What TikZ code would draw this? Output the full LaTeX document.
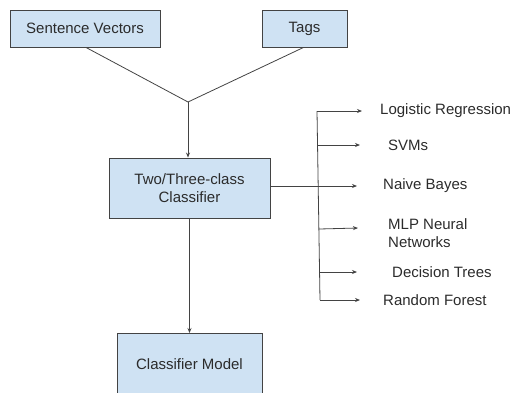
\documentclass[tikz,border=0pt]{standalone}
\usepackage{fontspec}
\setmainfont{Liberation Sans}
\usetikzlibrary{arrows.meta}
\definecolor{boxfill}{HTML}{CFE2F3}
\definecolor{boxline}{HTML}{434343}
\definecolor{txt}{HTML}{2B2B2B}
\begin{document}
\begin{tikzpicture}[x=1pt,y=-1pt,
  box/.style={draw=boxline,line width=0.9pt,fill=boxfill,text=txt,font=\fontsize{15}{18}\selectfont,align=center,inner sep=0pt},
  lbl/.style={anchor=west,text=txt,font=\fontsize{15}{18}\selectfont,align=left,inner sep=0pt},
  conn/.style={draw=boxline,line width=0.8pt},
  arr/.style={conn,-{Stealth[length=5pt,width=4pt]}}]
\useasboundingbox (0,0) rectangle (511,392);
\begin{scope}
\clip (0,0) rectangle (511,392);
\node[box,minimum width=150pt,minimum height=37pt] (sv) at (85,28.5) {Sentence Vectors};
\node[box,minimum width=85pt,minimum height=37pt] (tags) at (304.5,28.5) {Tags};
\node[box,minimum width=161pt,minimum height=60pt] (clf) at (189.5,188) {Two/Three-class\\Classifier};
\node[box,minimum width=145pt,minimum height=80pt,anchor=north] (cm) at (189.5,333) {};
\node[text=txt,font=\fontsize{15}{18}\selectfont,inner sep=0pt] (cmt) at (189.5,364) {Classifier Model};
\end{scope}
\coordinate (j) at (188,102);
\draw[conn] (sv.south) ++(1,0) coordinate (svb) (svb) -- (j);
\draw[conn] (tags.south) ++(-1,0) coordinate (tb) (tb) -- (j);
\draw[arr] (j) -- (j |- clf.north);
\draw[arr] (clf.south) -- (cm.north);
% branch column
\coordinate (vt) at (317,111);
\coordinate (vb) at (320,300);
\draw[conn] (vt) -- (vb);
\node[lbl] (lr) at (380,111) {Logistic Regression};
\node[lbl] (svm) at (388,145) {SVMs};
\node[lbl] (nb) at (383,186) {Naive Bayes};
\node[lbl] (mlp) at (388,233) {MLP Neural\\Networks};
\node[lbl] (dt) at (392,272) {Decision Trees};
\node[lbl] (rf) at (383,300) {Random Forest};
\coordinate (a1) at (362,111);
\coordinate (a2) at (360,145);
\coordinate (a3) at (357,186);
\coordinate (a4) at (358,228);
\coordinate (a5) at (357,272);
\coordinate (a6) at (360,300);
\draw[arr] (vt) -- (a1);
\draw[arr] (317.7,145) -- (a2);
\draw[arr] (clf.east |- a3) -- (a3);
\draw[arr] (319.2,229) -- (a4);
\draw[arr] (319.6,272) -- (a5);
\draw[arr] (vb) -- (a6);
\end{tikzpicture}
\end{document}
